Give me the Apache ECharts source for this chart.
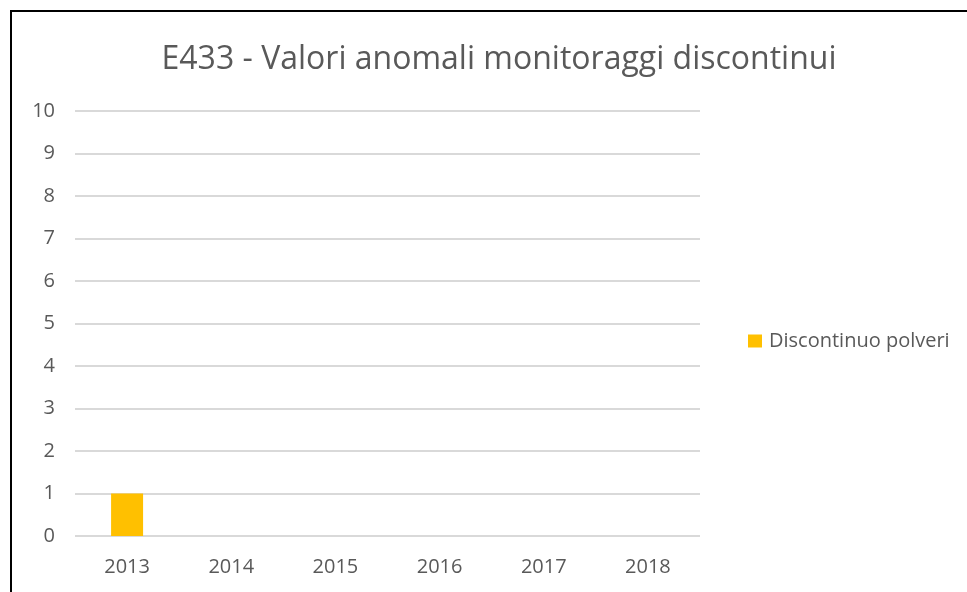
<!DOCTYPE html>
<html>
<head>
<meta charset="utf-8">
<script src="https://cdn.jsdelivr.net/npm/echarts@6/dist/echarts.min.js"></script>
<style>
  html, body { margin: 0; padding: 0; background: #fff; }
  #frame { position: absolute; left: 10px; top: 10px; width: 980px; height: 600px;
           border-left: 2px solid #000; border-top: 2px solid #000; }
  #chart { position: absolute; left: 0; top: 0; width: 967px; height: 592px; }
</style>
</head>
<body>
<div id="frame"></div>
<div id="chart"></div>
<script>
var years = ["2013", "2014", "2015", "2016", "2017", "2018"];
var polveri = [1, 0, 0, 0, 0, 0];
var yTicks = { min: 0, max: 10, interval: 1 };

var myChart = echarts.init(document.getElementById("chart"));
var font = "'Open Sans', 'Noto Sans', sans-serif";
myChart.setOption({
  animation: false,
  title: {
    text: "E433 - Valori anomali monitoraggi discontinui",
    left: 494,
    textAlign: "center",
    top: 39,
    textStyle: { fontFamily: font, fontSize: 32, fontWeight: "normal", color: "#595959" }
  },
  legend: {
    left: 743,
    top: 326,
    itemWidth: 14,
    itemHeight: 13,
    itemGap: 7,
    icon: "rect",
    data: ["Discontinuo polveri"],
    textStyle: { fontFamily: font, fontSize: 20, color: "#595959", padding: [0, 0, 0, 2] }
  },
  grid: { left: 75, right: 267, top: 111, bottom: 56 },
  xAxis: {
    type: "category",
    data: years,
    axisLine: { show: false },
    axisTick: { show: false },
    axisLabel: { fontFamily: font, fontSize: 20, color: "#595959", margin: 21 }
  },
  yAxis: {
    type: "value",
    min: yTicks.min,
    max: yTicks.max,
    interval: yTicks.interval,
    axisLine: { show: false },
    axisTick: { show: false },
    splitLine: { lineStyle: { color: "#d9d9d9", width: 2 } },
    axisLabel: { fontFamily: font, fontSize: 20, color: "#595959", margin: 20 }
  },
  series: [
    {
      name: "Discontinuo polveri",
      type: "bar",
      data: polveri,
      barWidth: 32,
      itemStyle: { color: "#ffc000" }
    }
  ]
});
</script>
</body>
</html>
